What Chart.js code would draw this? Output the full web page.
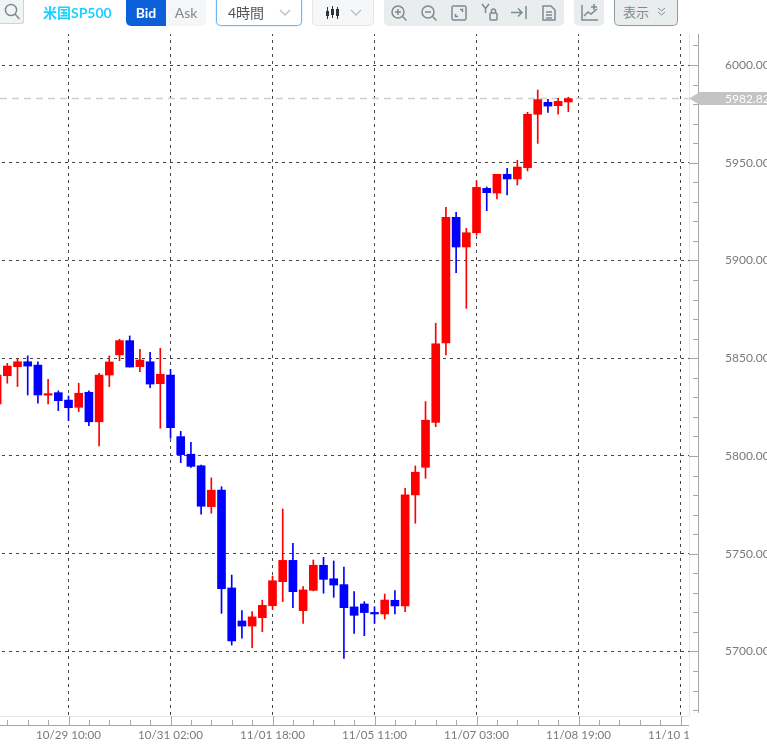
<!DOCTYPE html>
<html>
<head>
<meta charset="utf-8">
<script src="https://cdn.jsdelivr.net/npm/chart.js@4"></script>
<style>
html,body{margin:0;padding:0;background:#fff;overflow:hidden;width:767px;height:745px;}
body{font-family:Lato,"Noto Sans CJK JP",sans-serif;position:relative;}
#chart{position:absolute;left:0;top:0;}
.tb{position:absolute;box-sizing:border-box;top:0;height:26px;line-height:25px;font-size:14px;white-space:nowrap;}
.tb svg{position:absolute;fill:none;stroke:#7d8b90;stroke-width:1.5;}
</style>
</head>
<body>
<canvas id="chart" width="767" height="745" style="width:767px;height:745px"></canvas>

<div class="tb" style="left:0;width:24px;height:24px;background:#f1f4f5;border:1px solid #c9d6db;border-top:0;border-left:0;border-radius:0 0 3px 0">
<svg style="left:4px;top:3px" width="16" height="18" viewBox="0 0 16 18"><circle cx="7" cy="7" r="5.6"/><path d="M11 11l4.5 5"/></svg></div>
<div class="tb" style="left:43px;color:#1fd0ff;font-weight:bold;font-size:14px;">米国SP500</div>
<div class="tb" style="left:126px;width:40px;background:#0b5fd8;color:#fff;font-weight:bold;text-align:center;border-radius:0 0 0 5px">Bid</div>
<div class="tb" style="left:166px;width:40px;background:#f5f6f7;color:#80898f;text-align:center;border-radius:0 0 5px 0">Ask</div>
<div class="tb" style="left:216px;width:86px;background:#fff;border:1px solid #6db5f5;border-top:0;border-radius:0 0 5px 5px;color:#555;padding-left:11px;box-shadow:0 0 2px #a8d4fa">4時間
<svg style="left:62px;top:9px" width="12" height="8" viewBox="0 0 12 8"><path d="M1 1l5 5 5-5" stroke="#b9c4c8"/></svg></div>
<div class="tb" style="left:312px;width:62px;background:#f5f7f8;border:1px solid #e2e8ea;border-top:0;border-radius:0 0 5px 5px">
<svg style="left:12px;top:6px" width="15" height="14" viewBox="0 0 15 14"><path d="M2.5 1v12M7.5 0v12M12.5 1v12" stroke="#333" stroke-width="1"/><path d="M2.5 5v5M7.5 3v6M12.5 3v7" stroke="#333" stroke-width="3"/></svg>
<svg style="left:37px;top:9px" width="12" height="8" viewBox="0 0 12 8"><path d="M1 1l5 5 5-5" stroke="#b9c4c8"/></svg></div>

<div class="tb" style="left:384px;width:180px;background:#e9edee;border-radius:0 0 5px 5px">
<svg style="left:7px;top:5px" width="16" height="17" viewBox="0 0 16 17"><circle cx="7" cy="7" r="6"/><path d="M11.5 11.5l4 4M4 7h6M7 4v6"/></svg>
<svg style="left:37px;top:5px" width="16" height="17" viewBox="0 0 16 17"><circle cx="7" cy="7" r="6"/><path d="M11.5 11.5l4 4M4 7h6"/></svg>
<svg style="left:67px;top:5px" width="16" height="16" viewBox="0 0 16 16"><rect x="1" y="1" width="14" height="14" rx="1.5"/><path d="M9 4.5h2.5V7M7 11.5H4.5V9"/></svg>
<svg style="left:97px;top:3px" width="18" height="18" viewBox="0 0 18 18"><path d="M1 1l3.5 4.5L8 1M4.5 5.5V10"/><rect x="9" y="10" width="7" height="7" rx="1"/><path d="M10.5 10V8a2 2 0 0 1 4 0v2"/></svg>
<svg style="left:127px;top:6px" width="16" height="13" viewBox="0 0 16 13"><path d="M0 6.5h11M7 2.5l4 4-4 4M15 0v13"/></svg>
<svg style="left:158px;top:5px" width="14" height="16" viewBox="0 0 14 16"><path d="M1 1h8l4 4v10H1zM4 7h6M4 10h6M4 13h6"/></svg>
</div>
<div class="tb" style="left:574px;width:30px;background:#e9edee;border-radius:0 0 5px 5px">
<svg style="left:7px;top:3px" width="18" height="18" viewBox="0 0 18 18"><path d="M1 2v15h16M3 13l4-4 3 2 6-5M13 1v6M10 4h6"/></svg></div>
<div class="tb" style="left:614px;width:64px;background:#e9edee;border:1px solid #8f9a9f;border-top:0;border-radius:0 0 5px 5px;color:#7d8b90;padding-left:8px;font-size:13px">表示
<svg style="left:42px;top:7px" width="9" height="10" viewBox="0 0 9 10"><path d="M1 1l3.5 3 3.5-3M1 5l3.5 3 3.5-3" stroke-width="1"/></svg></div>

<script>
// prices, one entry per 4h candle
const opens = [5826.6,5841.1,5845.7,5848.2,5846.5,5831.1,5832.4,5828.6,5824.9,5832.6,
  5817.5,5841.4,5851.7,5859.0,5845.7,5848.2,5837.0,5841.4,5809.9,5800.9,
  5795.0,5774.1,5782.6,5732.5,5715.6,5713.0,5717.3,5723.4,5735.7,5746.6,
  5720.9,5731.3,5744.1,5737.2,5734.2,5722.8,5724.3,5719.9,5719.2,5726.2,
  5723.3,5780.1,5794.2,5817.2,5857.8,5922.1,5906.9,5914.2,5936.9,5934.5,
  5944.1,5941.7,5947.5,5974.8,5980.9,5979.2,5981.1];
const closes = [5841.4,5846.0,5848.2,5846.0,5831.2,5831.9,5828.3,5824.7,5832.1,5817.5,
  5841.4,5848.1,5859.0,5845.5,5849.1,5836.8,5841.8,5814.5,5800.7,5794.7,
  5774.3,5782.5,5732.1,5705.4,5713.0,5717.7,5723.6,5736.2,5746.6,5730.6,
  5731.5,5744.1,5736.9,5734.0,5722.4,5718.5,5719.9,5719.2,5726.3,5723.3,
  5780.1,5791.7,5818.3,5857.4,5922.1,5906.9,5914.2,5937.4,5934.7,5944.1,
  5941.7,5947.8,5974.8,5982.3,5979.0,5981.4,5982.82];
const highs = [5843.0,5847.4,5850.0,5851.2,5848.2,5839.2,5833.3,5830.7,5837.2,5833.3,
  5842.3,5851.2,5859.7,5861.4,5854.6,5853.0,5855.1,5844.3,5812.6,5807.0,
  5795.4,5788.8,5784.3,5739.1,5720.9,5720.4,5726.3,5738.6,5772.9,5755.3,
  5733.2,5746.8,5748.2,5746.3,5743.2,5730.6,5725.5,5722.9,5729.4,5731.1,
  5783.5,5794.9,5827.8,5867.9,5927.2,5924.7,5916.5,5940.7,5937.6,5944.1,
  5947.2,5951.3,5975.8,5987.2,5982.5,5983.0,5983.5];
const lows = [5825.0,5837.2,5835.5,5831.2,5827.0,5826.6,5823.2,5818.1,5822.7,5815.5,
  5805.1,5835.5,5848.7,5845.5,5843.1,5834.9,5814.2,5809.1,5796.6,5794.2,
  5770.2,5770.7,5719.5,5703.3,5706.8,5702.0,5710.1,5721.6,5725.5,5722.4,
  5714.4,5731.0,5729.8,5727.7,5696.5,5709.3,5708.1,5714.4,5716.6,5719.2,
  5720.4,5765.6,5788.6,5815.0,5851.7,5893.8,5875.5,5913.0,5925.5,5931.5,
  5933.5,5938.6,5945.8,5959.9,5975.8,5974.9,5976.1];
// true = rising candle (red), false = falling (blue)
const isUp = opens.map((o,i)=>closes[i]>=o);

const timeTicks = [7,17,27,37,47,57,67];
const timeLabels = ["10/29 10:00","10/31 02:00","11/01 18:00","11/05 11:00","11/07 03:00","11/08 19:00","11/10 11:00"];
const priceLabels = [6000,5950,5900,5850,5800,5750,5700];
const lastPrice = 5982.82;

const X_MIN = 0.284, X_MAX = 67.83;
const Y_MIN = 5667, Y_MAX = 6015.86;

const RED = "#ff0000", BLUE = "#0000ff";
const AXIS = "#a8a8a8", FAINT = "#e6e6e6", LABEL = "#7a7a7a", GRID = "#444";

// axis frame, small ticks and the price tag
const frame = {
  id:"frame",
  afterDraw(c){
    const g = c.ctx, a = c.chartArea, x = c.scales.x, y = c.scales.y;
    const axisX = a.right + 9, axisY = a.bottom + 9;

    // the x labels are cut where the price axis starts
    g.save();
    g.fillStyle = "#fff";
    g.fillRect(a.right, a.bottom, c.width - a.right, c.height - a.bottom);

    g.lineWidth = 1;
    g.strokeStyle = FAINT;
    g.beginPath();
    g.moveTo(a.left, a.bottom + .5); g.lineTo(a.right, a.bottom + .5);
    g.moveTo(a.right + .5, a.top); g.lineTo(a.right + .5, a.bottom);
    g.stroke();

    g.strokeStyle = AXIS;
    g.beginPath();
    g.moveTo(a.left, axisY + .5); g.lineTo(a.right, axisY + .5);
    g.moveTo(axisX + .5, a.top); g.lineTo(axisX + .5, a.bottom - 3);
    x.ticks.forEach(t=>{
      const px = Math.round(x.getPixelForValue(t.value)) + .5;
      g.moveTo(px, axisY); g.lineTo(px, timeTicks.includes(t.value) ? a.bottom : axisY - 5);
    });
    y.ticks.forEach(t=>{
      const py = Math.round(y.getPixelForValue(t.value)) + .5;
      g.moveTo(axisX, py); g.lineTo(priceLabels.includes(t.value) ? a.right : axisX - 5, py);
    });
    g.stroke();

    // tag
    const py = y.getPixelForValue(lastPrice);
    g.fillStyle = "#c4c4c4";
    g.beginPath();
    g.moveTo(a.right, py);
    g.lineTo(a.right + 11, py - 6.5);
    g.lineTo(c.width, py - 6.5);
    g.lineTo(c.width, py + 6.5);
    g.lineTo(a.right + 11, py + 6.5);
    g.closePath();
    g.fill();
    g.fillStyle = "#fff";
    g.font = "12px Lato";
    g.textBaseline = "middle";
    g.fillText(lastPrice.toFixed(2), a.right + 36, py + .5);
    g.restore();
  }
};

const minorTimes = [];
for(let i=1;i<=67;i+=2) minorTimes.push(i);
const minorPrices = [];
for(let p=5670;p<=6010;p+=10) minorPrices.push(p);

// no room kept for labels hanging past the plot edges
function noPadding(s){
  s.paddingLeft = s.paddingRight = s.paddingTop = s.paddingBottom = 0;
}

new Chart(document.getElementById("chart"),{
  type:"bar",
  data:{
    datasets:[
      {
        type:"line",
        data:[{x:X_MIN,y:lastPrice},{x:X_MAX,y:lastPrice}],
        borderColor:"#cfcfcf",
        borderWidth:1.5,
        borderDash:[7,5],
        pointRadius:0,
        order:3
      },
      {
        data:highs.map((h,i)=>({x:i,y:[lows[i],h]})),
        backgroundColor:isUp.map(u=>u?RED:BLUE),
        barThickness:1,
        grouped:false,
        order:2
      },
      {
        data:opens.map((o,i)=>({x:i,y:[o,closes[i]]})),
        backgroundColor:isUp.map(u=>u?RED:BLUE),
        barThickness:8,
        minBarLength:1.5,
        grouped:false,
        order:1
      }
    ]
  },
  options:{
    responsive:false,
    animation:false,
    devicePixelRatio:1,
    layout:{padding:{top:34,left:0,right:0,bottom:0}},
    plugins:{legend:{display:false},tooltip:{enabled:false}},
    scales:{
      x:{
        type:"linear",
        offset:false,
        min:X_MIN,
        max:X_MAX,
        afterBuildTicks(s){ s.ticks = minorTimes.map(v=>({value:v})); },
        afterFit(s){ s.height = 29; noPadding(s); },
        grid:{
          offset:false,
          drawTicks:false,
          lineWidth:1,
          color:c=>c.tick && timeTicks.includes(c.tick.value) ? GRID : "rgba(0,0,0,0)"
        },
        border:{display:false,dash:[3,4],dashOffset:1},
        ticks:{
          autoSkip:false,
          maxRotation:0,
          padding:12,
          color:LABEL,
          font:{family:"Lato",size:11.6},
          callback:v=>{
            const k = timeTicks.indexOf(v);
            return k < 0 ? "" : timeLabels[k];
          }
        }
      },
      y:{
        position:"right",
        min:Y_MIN,
        max:Y_MAX,
        afterBuildTicks(s){ s.ticks = minorPrices.map(v=>({value:v})); },
        afterFit(s){ s.width = 78; noPadding(s); },
        grid:{
          drawTicks:false,
          lineWidth:1,
          color:c=>c.tick && priceLabels.includes(c.tick.value) ? GRID : "rgba(0,0,0,0)"
        },
        border:{display:false,dash:[3,4],dashOffset:5},
        ticks:{
          autoSkip:false,
          padding:36,
          color:LABEL,
          font:{family:"Lato",size:12},
          callback:v=>priceLabels.includes(v) ? v.toFixed(2) : ""
        }
      }
    }
  },
  plugins:[frame]
});
</script>
</body>
</html>
